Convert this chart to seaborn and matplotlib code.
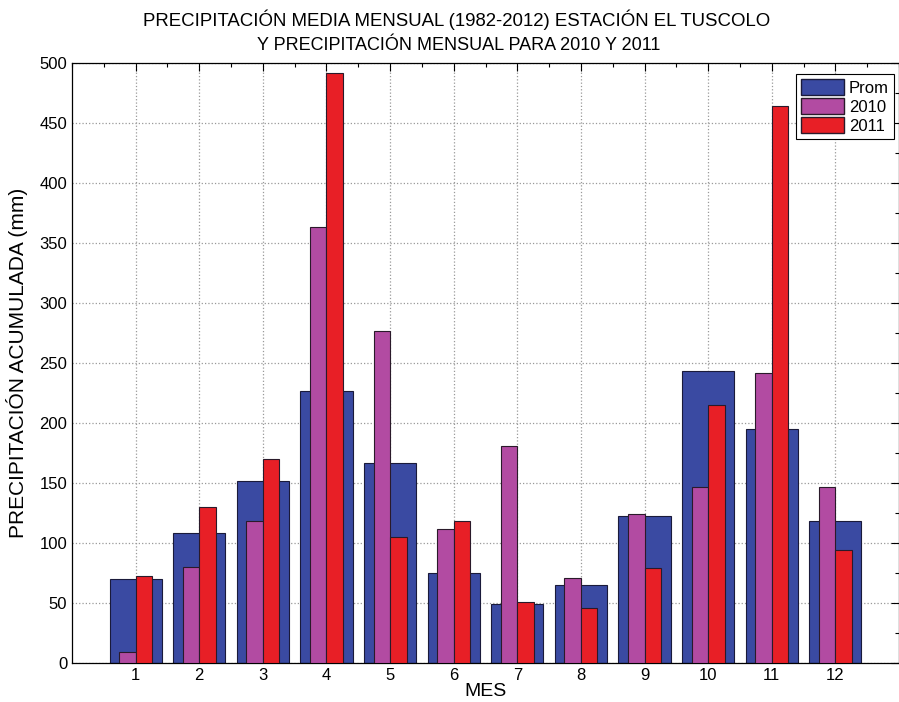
import matplotlib
matplotlib.use("Agg")
import matplotlib.pyplot as plt
import seaborn as sns
import pandas as pd
from matplotlib.patches import Patch
from matplotlib.ticker import MultipleLocator

months = [str(m) for m in range(1, 13)]
prom = [70.4, 108, 151.8, 227, 166.9, 75, 49.3, 65.3, 122.7, 243.6, 195.4, 118.6]
p2010 = [9, 80.4, 118, 363.6, 276.5, 112, 181, 70.7, 124, 146.4, 241.6, 147]
p2011 = [72.7, 129.7, 169.6, 492, 104.9, 118.6, 50.6, 45.9, 78.8, 215, 464.5, 94.2]

c_prom = "#3a4aa2"
c_2010 = "#b24ba2"
c_2011 = "#e81f26"

sns.set_theme(style="white")
plt.rcParams["font.family"] = ["Liberation Sans", "DejaVu Sans"]
plt.rcParams["text.color"] = "black"
plt.rcParams["axes.labelcolor"] = "black"

fig = plt.figure(figsize=(8.99, 7.02), dpi=100)
ax = fig.add_axes([72/899, 39/702, 827/899, 600/702])

df_prom = pd.DataFrame({"mes": months, "val": prom})
df_years = pd.DataFrame({
    "mes": months * 2,
    "val": p2010 + p2011,
    "serie": ["2010"] * 12 + ["2011"] * 12,
})

sns.barplot(data=df_prom, x="mes", y="val", order=months, color=c_prom,
            width=0.82, saturation=1, edgecolor="#1a1a3a", linewidth=0.8,
            ax=ax, zorder=2)
sns.barplot(data=df_years, x="mes", y="val", hue="serie", order=months,
            hue_order=["2010", "2011"], palette=[c_2010, c_2011],
            width=0.52, dodge=True, saturation=1, edgecolor="#2a1a2a",
            linewidth=0.8, ax=ax, legend=False, zorder=3)

ax.set_xlim(-1, 12)
ax.set_ylim(0, 500)
ax.set_xticks(range(12))
ax.set_xticklabels(months)
ax.set_yticks(range(0, 501, 50))
ax.yaxis.set_minor_locator(MultipleLocator(25))
ax.xaxis.set_minor_locator(MultipleLocator(0.5))
ax.tick_params(which="both", direction="in", top=True, right=True,
               labelsize=12, colors="black")
ax.tick_params(which="major", length=6, width=0.8)
ax.tick_params(which="minor", length=3, width=0.8)
ax.grid(True, which="major", linestyle=":", color="#999999", linewidth=0.9, zorder=0)
ax.set_axisbelow(True)
for s in ax.spines.values():
    s.set_color("black")
    s.set_linewidth(0.9)

ax.set_xlabel("MES", fontsize=14, labelpad=0)
ax.set_ylabel("PRECIPITACIÓN ACUMULADA (mm)", fontsize=15, labelpad=8)

fig.text(457/899, 1 - 20/702, "PRECIPITACIÓN MEDIA MENSUAL (1982-2012) ESTACIÓN EL TUSCOLO",
         ha="center", va="center", fontsize=13.4, color="black")
fig.text(459/899, 1 - 45/702, "Y PRECIPITACIÓN MENSUAL PARA 2010 Y 2011",
         ha="center", va="center", fontsize=13, color="black")

handles = [Patch(facecolor=c_prom, edgecolor="#1a1a3a", label="Prom"),
           Patch(facecolor=c_2010, edgecolor="#2a1a2a", label="2010"),
           Patch(facecolor=c_2011, edgecolor="#2a1a2a", label="2011")]
leg = ax.legend(handles=handles, loc="upper right", bbox_to_anchor=(1.0, 0.99),
                fontsize=12, frameon=True, fancybox=False, framealpha=1,
                edgecolor="black", handlelength=2.6, handleheight=1.1,
                handletextpad=0.3, labelspacing=0.15, borderpad=0.3,
                borderaxespad=0.3)
leg.get_frame().set_linewidth(0.8)

fig.savefig("out.png", dpi=100)
